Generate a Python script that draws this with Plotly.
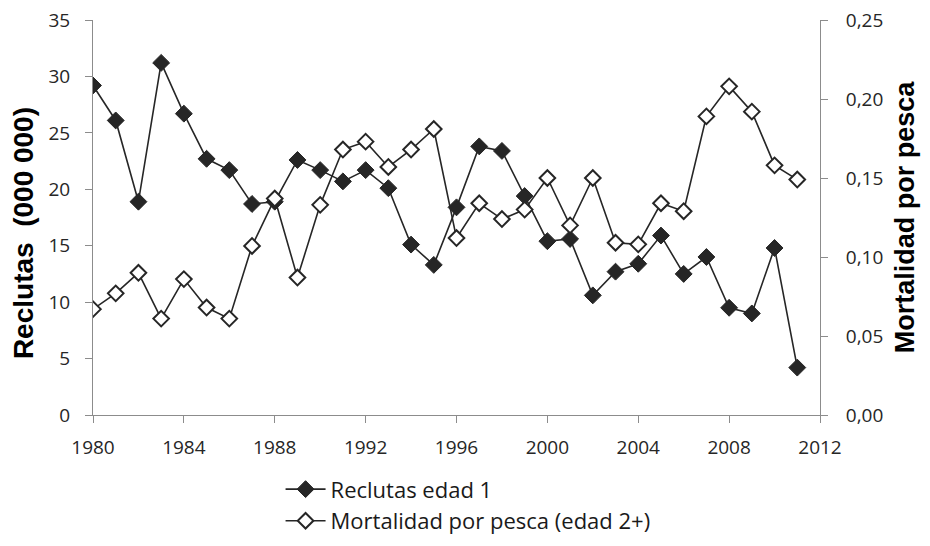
import plotly.graph_objects as go

# datos
anios = list(range(1980, 2012))
reclutas = [29.2, 26.1, 18.9, 31.2, 26.7, 22.7, 21.7, 18.7, 18.9, 22.6,
            21.7, 20.7, 21.7, 20.1, 15.1, 13.3, 18.4, 23.8, 23.4, 19.4,
            15.4, 15.6, 10.6, 12.7, 13.4, 15.9, 12.5, 14.0, 9.5, 9.0,
            14.8, 4.2]
mortalidad = [0.067, 0.077, 0.090, 0.061, 0.086, 0.068, 0.061, 0.107, 0.137, 0.087,
              0.133, 0.168, 0.173, 0.157, 0.168, 0.181, 0.112, 0.134, 0.124, 0.130,
              0.150, 0.120, 0.150, 0.109, 0.108, 0.134, 0.129, 0.189, 0.208, 0.192,
              0.158, 0.149]

negro = '#262626'
gris = '#8c8c8c'

fig = go.Figure()
fig.add_trace(go.Scatter(
    x=anios, y=reclutas, name='Reclutas edad 1', mode='lines+markers',
    line=dict(color=negro, width=1.6),
    marker=dict(symbol='diamond', size=13, color=negro, line=dict(color=negro, width=1))
))
fig.add_trace(go.Scatter(
    x=anios, y=mortalidad, name='Mortalidad por pesca (edad 2+)', mode='lines+markers',
    yaxis='y2', line=dict(color=negro, width=1.6),
    marker=dict(symbol='diamond', size=12, color='white', line=dict(color=negro, width=2))
))

fuente_ejes = dict(family='Open Sans, Lato, sans-serif', size=19, color='#262626')

# la pagina tiene 8 px de margen en el body: se compensa en los margenes
fig.update_layout(
    width=930, height=546,
    margin=dict(l=85, r=118, t=12, b=133),
    plot_bgcolor='white', paper_bgcolor='white',
    separators=',.',
    showlegend=True,
    legend=dict(x=0.258, xanchor='left', y=-0.135, yanchor='top',
                font=dict(family='Open Sans, Lato, sans-serif', size=22, color='#1a1a1a'),
                tracegroupgap=0, itemwidth=40),
    xaxis=dict(range=[1980, 2012], tickvals=list(range(1980, 2013, 4)),
               showgrid=False, zeroline=False, showline=True, linecolor=gris, linewidth=1,
               ticks='outside', ticklen=7, tickcolor=gris, tickfont=fuente_ejes,
               ticklabelstandoff=8, automargin=False, ticklabeloverflow='allow'),
    yaxis=dict(range=[0, 35], dtick=5, showgrid=False, zeroline=False,
               showline=True, linecolor=gris, linewidth=1,
               ticks='outside', ticklen=7, tickcolor=gris, tickfont=fuente_ejes,
               ticklabelstandoff=11, automargin=False, ticklabeloverflow='allow',
               title=dict(text='<b>Reclutas  (000 000)&nbsp;&nbsp;&nbsp;&nbsp;</b>', standoff=6,
                          font=dict(family='Liberation Sans, Arial, sans-serif', size=28, color='black'))),
    yaxis2=dict(range=[0, 0.25], dtick=0.05, tickformat='.2f', overlaying='y', side='right',
                showgrid=False, zeroline=False, showline=True, linecolor=gris, linewidth=1,
                ticks='outside', ticklen=7, tickcolor=gris, tickfont=fuente_ejes,
                ticklabelstandoff=14, automargin=False, ticklabeloverflow='allow',
                title=dict(text='<b>Mortalidad por pesca</b>', standoff=12,
                           font=dict(family='Liberation Sans, Arial, sans-serif', size=27, color='black'))),
)

fig.write_html('out.html')
